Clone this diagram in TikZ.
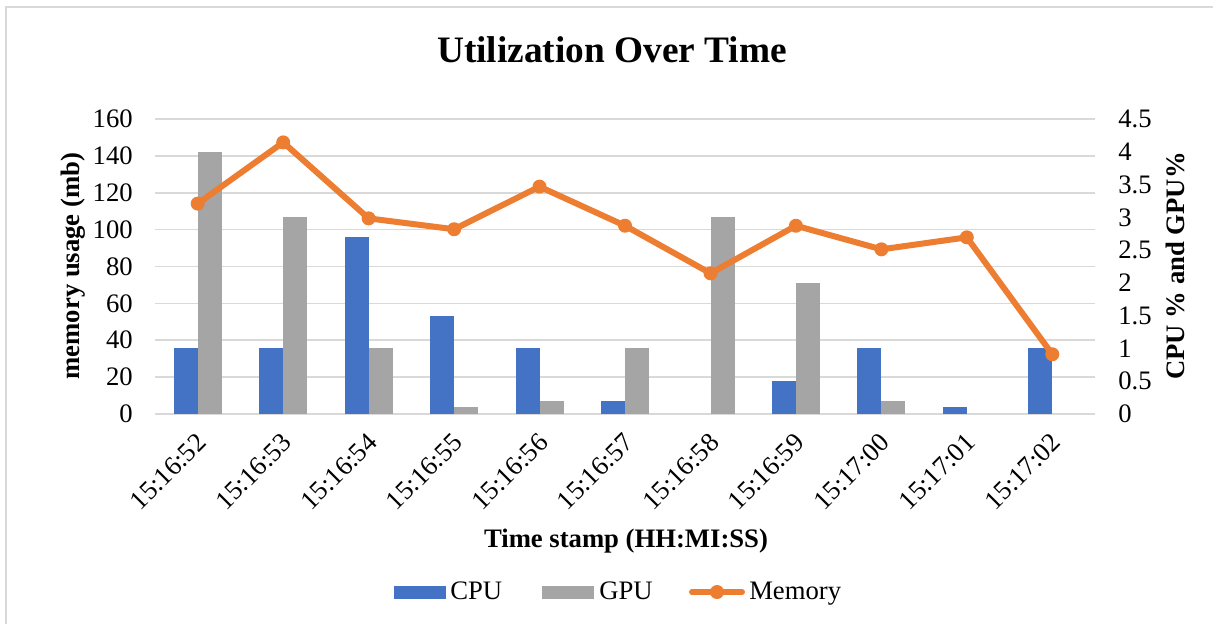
\documentclass[tikz,border=0pt]{standalone}
\usepackage{fontspec}
\setmainfont{Liberation Serif}
\definecolor{cpublue}{HTML}{4472C4}
\definecolor{gpugray}{HTML}{A5A5A5}
\definecolor{memorange}{HTML}{ED7D31}
\definecolor{gridgray}{HTML}{D9D9D9}
\tikzset{
  grid line/.style={gridgray, line width=1.2pt},
  cpu bar/.style={fill=cpublue},
  gpu bar/.style={fill=gpugray},
  mem line/.style={memorange, line width=4.5pt, line join=round, line cap=round},
  mem dot/.style={circle, fill=memorange, inner sep=0pt, minimum size=10.5pt},
  ticklabel/.style={inner sep=0pt, font=\fontsize{20}{24}\selectfont},
  stamp/.style={ticklabel, rotate=45, anchor=east},
  axis title/.style={font=\fontsize{20}{24}\selectfont\bfseries},
  legend key/.style={inner sep=0pt, minimum width=39pt, minimum height=9.75pt},
}
\begin{document}
\begin{tikzpicture}[x=0.75pt, y=-0.75pt]
      \useasboundingbox (0,0) rectangle (1213,624);
      \draw[gridgray, line width=1pt] (6,624) -- (6,7) -- (1213,7);
      \node[font=\fontsize{28}{34}\selectfont\bfseries] (title) at (612,50) {Utilization Over Time};
      \begin{scope}[shift={(0,414)}, yscale=-1.84375]
        \draw[grid line]
          (155,0) -- (1095,0)
          (155,20) -- (1095,20)
          (155,40) -- (1095,40)
          (155,60) -- (1095,60)
          (155,80) -- (1095,80)
          (155,100) -- (1095,100)
          (155,120) -- (1095,120)
          (155,140) -- (1095,140)
          (155,160) -- (1095,160);
        \draw
          (133,0) node[ticklabel, anchor=east] (l0){0}
          (133,20) node[ticklabel, anchor=east] (l20){20}
          (133,40) node[ticklabel, anchor=east] (l40){40}
          (133,60) node[ticklabel, anchor=east] (l60){60}
          (133,80) node[ticklabel, anchor=east] (l80){80}
          (133,100) node[ticklabel, anchor=east] (l100){100}
          (133,120) node[ticklabel, anchor=east] (l120){120}
          (133,140) node[ticklabel, anchor=east] (l140){140}
          (133,160) node[ticklabel, anchor=east] (l160){160};
      \end{scope}
      \begin{scope}[shift={(0,414)}, yscale=-65.5556]
        \fill[cpu bar] (173.7,0) rectangle (197.7,1);
        \fill[gpu bar] (197.7,0) rectangle (221.7,4);
        \fill[cpu bar] (259.2,0) rectangle (283.2,1);
        \fill[gpu bar] (283.2,0) rectangle (307.2,3);
        \fill[cpu bar] (344.6,0) rectangle (368.6,2.7);
        \fill[gpu bar] (368.6,0) rectangle (392.6,1);
        \fill[cpu bar] (430.1,0) rectangle (454.1,1.5);
        \fill[gpu bar] (454.1,0) rectangle (478.1,0.1);
        \fill[cpu bar] (515.5,0) rectangle (539.5,1);
        \fill[gpu bar] (539.5,0) rectangle (563.5,0.2);
        \fill[cpu bar] (601,0) rectangle (625,0.2);
        \fill[gpu bar] (625,0) rectangle (649,1);
        \fill[gpu bar] (710.5,0) rectangle (734.5,3);
        \fill[cpu bar] (771.9,0) rectangle (795.9,0.5);
        \fill[gpu bar] (795.9,0) rectangle (819.9,2);
        \fill[cpu bar] (857.4,0) rectangle (881.4,1);
        \fill[gpu bar] (881.4,0) rectangle (905.4,0.2);
        \fill[cpu bar] (942.8,0) rectangle (966.8,0.1);
        \fill[cpu bar] (1028.3,0) rectangle (1052.3,1);
        \draw
          (1118,0) node[ticklabel, anchor=west] (r0){0}
          (1118,0.5) node[ticklabel, anchor=west] (r05){0.5}
          (1118,1) node[ticklabel, anchor=west] (r1){1}
          (1118,1.5) node[ticklabel, anchor=west] (r15){1.5}
          (1118,2) node[ticklabel, anchor=west] (r2){2}
          (1118,2.5) node[ticklabel, anchor=west] (r25){2.5}
          (1118,3) node[ticklabel, anchor=west] (r3){3}
          (1118,3.5) node[ticklabel, anchor=west] (r35){3.5}
          (1118,4) node[ticklabel, anchor=west] (r4){4}
          (1118,4.5) node[ticklabel, anchor=west] (r45){4.5};
      \end{scope}
      \begin{scope}[shift={(0,414)}, yscale=-1.84375]
        \coordinate (p0) at (197.7,114.1);
        \coordinate (p1) at (283.2,147.3);
        \coordinate (p2) at (368.6,106.1);
        \coordinate (p3) at (454.1,100.2);
        \coordinate (p4) at (539.5,123.3);
        \coordinate (p5) at (625,102.1);
        \coordinate (p6) at (710.5,76.3);
        \coordinate (p7) at (795.9,102.1);
        \coordinate (p8) at (881.4,89.3);
        \coordinate (p9) at (966.8,95.8);
        \coordinate (p10) at (1052.3,32.4);
        \draw[mem line] (p0) -- (p1) -- (p2) -- (p3) -- (p4) -- (p5) -- (p6) -- (p7) -- (p8) -- (p9) -- (p10);
        \node[mem dot] (m0) at (p0) {};
        \node[mem dot] (m1) at (p1) {};
        \node[mem dot] (m2) at (p2) {};
        \node[mem dot] (m3) at (p3) {};
        \node[mem dot] (m4) at (p4) {};
        \node[mem dot] (m5) at (p5) {};
        \node[mem dot] (m6) at (p6) {};
        \node[mem dot] (m7) at (p7) {};
        \node[mem dot] (m8) at (p8) {};
        \node[mem dot] (m9) at (p9) {};
        \node[mem dot] (m10) at (p10) {};
      \end{scope}
      \draw
        (201.7,438) node[stamp] (t0){15:16:52}
        (287.2,438) node[stamp] (t1){15:16:53}
        (372.6,438) node[stamp] (t2){15:16:54}
        (458.1,438) node[stamp] (t3){15:16:55}
        (543.5,438) node[stamp] (t4){15:16:56}
        (629,438) node[stamp] (t5){15:16:57}
        (714.5,438) node[stamp] (t6){15:16:58}
        (799.9,438) node[stamp] (t7){15:16:59}
        (885.4,438) node[stamp] (t8){15:17:00}
        (970.8,438) node[stamp] (t9){15:17:01}
        (1056.3,438) node[stamp] (t10){15:17:02};
      \node[axis title, rotate=90] (ylab) at (73,266) {memory usage (mb)};
      \node[axis title, rotate=90] (y2lab) at (1175,266) {CPU \% and GPU\%};
      \node[axis title] (xlab) at (626,541) {Time stamp (HH:MI:SS)};
      \node[legend key, fill=cpublue] (kcpu) at (420,592.3) {};
      \node[ticklabel, anchor=base west] (tcpu) at (450,599.5) {CPU};
      \node[legend key, fill=gpugray] (kgpu) at (568,592.3) {};
      \node[ticklabel, anchor=base west] (tgpu) at (599,599.5) {GPU};
      \coordinate (ka) at (692,592);
      \coordinate (kb) at (742,592);
      \draw[mem line] (ka) -- (kb);
      \node[mem dot] (kmem) at (717,592) {};
      \node[ticklabel, anchor=base west] (tmem) at (749,599.5) {Memory};
    \end{tikzpicture}
\end{document}
